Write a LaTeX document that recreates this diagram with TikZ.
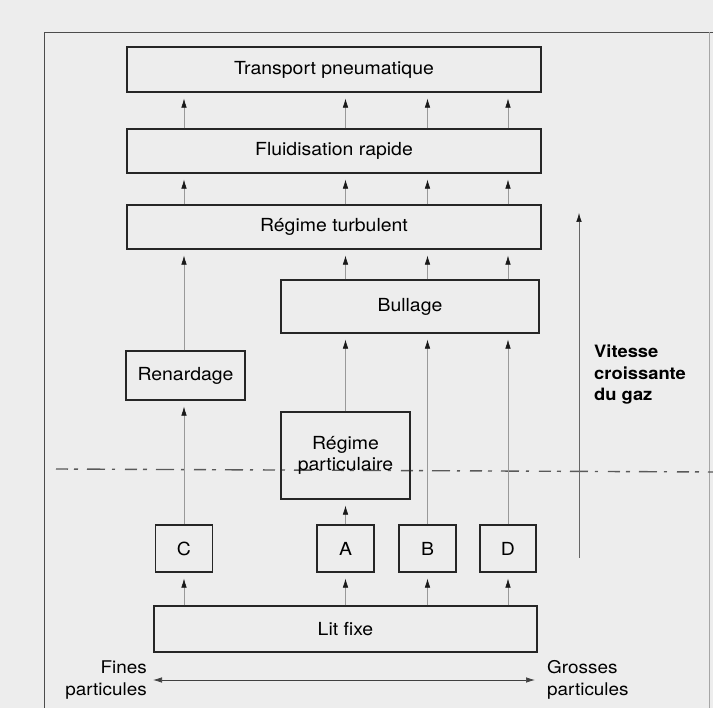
\documentclass[tikz,border=0pt]{standalone}
\usepackage{fontspec}
\setmainfont{TeX Gyre Heros}[FakeStretch=1.08]
\usetikzlibrary{arrows.meta}
\tikzset{
  box/.style={draw=black!85, line width=1.2pt, inner sep=0pt, font=\fontsize{18}{21}\selectfont, align=center},
  tipup/.tip={Latex[length=9pt,width=5.5pt,color=black!90,fill=black!90]},
  link/.style={draw=black!40, line width=0.6pt, -tipup, shorten >=6pt},
  lbl/.style={font=\bfseries\fontsize{17}{21.5}\selectfont, align=left, inner sep=0pt},
  side/.style={font=\fontsize{17.5}{22}\selectfont, inner sep=0pt},
  frameline/.style={draw=black!70, line width=0.9pt},
  scanline/.style={draw=black!65, line width=1.4pt, dash pattern=on 12pt off 6pt on 4pt off 9pt on 18pt off 7pt on 3pt off 10pt}
}
\begin{document}
\begin{tikzpicture}[x=1pt,y=-1pt]
\useasboundingbox (0,0) rectangle (713,708);
\fill[black!7] (0,0) rectangle (713,708);
% frame
\draw[frameline] (44,708) -- (44,32) -- (713,32);
\draw[draw=black!35, line width=0.6pt] (709,32) -- (709,708);
% scan line
\draw[scanline] (56,469) -- (713,472);

% boxes
\node[box, minimum width=414pt, minimum height=45pt] (tp) at (334,69.5) {Transport pneumatique};
\node[box, minimum width=414pt, minimum height=44pt] (fr) at (334,151) {Fluidisation rapide};
\node[box, minimum width=414pt, minimum height=44pt] (rt) at (334,227) {Régime turbulent};
\node[box, minimum width=258pt, minimum height=53pt] (bu) at (410,306.5) {Bullage};
\node[box, minimum width=119pt, minimum height=49pt] (re) at (185.5,375.5) {Renardage};
\node[box, minimum width=129pt, minimum height=87pt] (rp) at (345.5,455.5) {Régime\\particulaire};
\node[box, minimum width=57pt, minimum height=47pt] (C) at (184,548.5) {C};
\node[box, minimum width=57pt, minimum height=47pt] (A) at (345.5,548.5) {A};
\node[box, minimum width=57pt, minimum height=47pt] (B) at (427.5,548.5) {B};
\node[box, minimum width=56pt, minimum height=47pt] (D) at (508,548.5) {D};
\node[box, minimum width=383pt, minimum height=46pt] (lf) at (345.5,629) {Lit fixe};

% links: Lit fixe -> C A B D
\foreach \n in {C,A,B,D} {
  \draw[link] (lf.north -| \n) -- (\n.south);
}
% second level
\draw[link] (C.north) -- (re.south -| C);
\draw[link] (A.north) -- (rp.south);
\draw[link] (rp.north -| A) -- (bu.south -| A);
\draw[link] (B.north) -- (bu.south -| B);
\draw[link] (D.north) -- (bu.south -| D);
% to turbulent
\draw[link] (re.north -| C) -- (rt.south -| C);
\foreach \n in {A,B,D} {
  \draw[link] (bu.north -| \n) -- (rt.south -| \n);
}
% upper levels
\foreach \n in {C,A,B,D} {
  \draw[link] (rt.north -| \n) -- (fr.south -| \n);
  \draw[link] (fr.north -| \n) -- (tp.south -| \n);
}

% gas velocity arrow
\coordinate (vb) at (579,558);
\coordinate (vt) at (579,213);
\draw[link, draw=black!60, shorten >=0pt] (vb) -- (vt);
\node[lbl, anchor=north west] (vit) at (594,345) {Vitesse\\croissante\\du gaz};

% particle size axis
\node[side, anchor=east, align=right] (fines) at (147,680) {Fines\\particules};
\node[side, anchor=west, align=left] (grosses) at (547,680) {Grosses\\particules};
\draw[draw=black!75, line width=0.7pt, {Latex[length=9pt,width=5.5pt]}-{Latex[length=9pt,width=5.5pt]}, shorten <=6pt, shorten >=12pt] (fines.east) -- (grosses.west);
\end{tikzpicture}
\end{document}
